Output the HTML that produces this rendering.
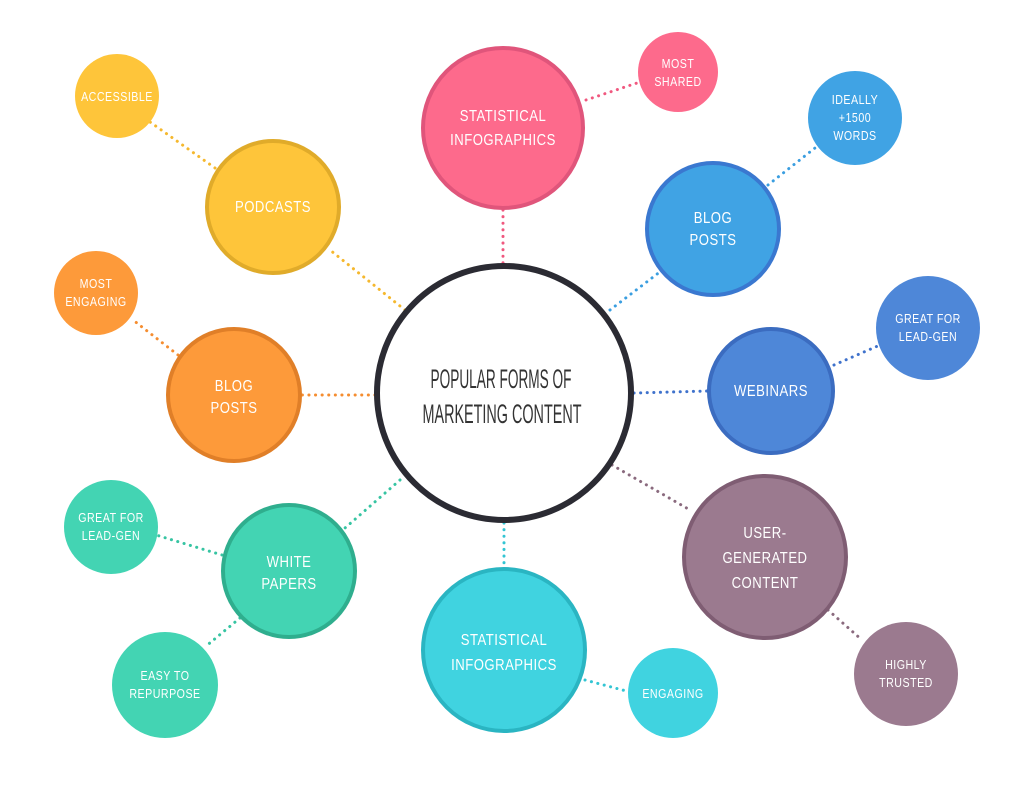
<!DOCTYPE html>
<html><head><meta charset="utf-8"><style>
html,body{margin:0;padding:0;background:#fff;}
svg{display:block}
text{font-family:"Liberation Sans Narrow","Liberation Sans",sans-serif;fill:#fff;text-anchor:middle;letter-spacing:0.6px;transform-box:fill-box;transform-origin:center;transform:scaleX(0.82)}
text.c{transform:none;fill:#333;font-size:27px;letter-spacing:0}
.b{font-size:16px}
.s{font-size:13px}
line{stroke-width:3;stroke-dasharray:0.1 6.5;stroke-linecap:round}
</style></head><body>
<svg width="1024" height="791" viewBox="0 0 1024 791">
<g>
<line x1="503" y1="210" x2="503" y2="263" stroke="#f0587f"/>
<line x1="586" y1="100" x2="640" y2="82" stroke="#f0587f"/>
<line x1="610" y1="310" x2="665" y2="268" stroke="#3a9ee0"/>
<line x1="768" y1="185" x2="815" y2="148" stroke="#3a9ee0"/>
<line x1="634" y1="393" x2="708" y2="391" stroke="#3f72cc"/>
<line x1="834" y1="365" x2="880" y2="345" stroke="#3f72cc"/>
<line x1="612" y1="465" x2="690" y2="510" stroke="#8a6a7e"/>
<line x1="828" y1="610" x2="862" y2="640" stroke="#8a6a7e"/>
<line x1="504" y1="523" x2="504" y2="567" stroke="#33c5d3"/>
<line x1="585" y1="680" x2="630" y2="692" stroke="#33c5d3"/>
<line x1="400" y1="480" x2="345" y2="528" stroke="#36c4a2"/>
<line x1="222" y1="555" x2="156" y2="535" stroke="#36c4a2"/>
<line x1="240" y1="618" x2="205" y2="647" stroke="#36c4a2"/>
<line x1="375" y1="395" x2="302" y2="395" stroke="#f58d30"/>
<line x1="178" y1="355" x2="133" y2="320" stroke="#f58d30"/>
<line x1="405" y1="310" x2="330" y2="250" stroke="#f5b82e"/>
<line x1="215" y1="168" x2="150" y2="122" stroke="#f5b82e"/>
</g>
<circle cx="504" cy="393" r="127" fill="#fff" stroke="#2b2b33" stroke-width="6"/>
<text class="c" x="501" y="388" textLength="141" lengthAdjust="spacingAndGlyphs">POPULAR FORMS OF</text>
<text class="c" x="502" y="423" textLength="159" lengthAdjust="spacingAndGlyphs">MARKETING CONTENT</text>

<circle cx="503" cy="128" r="80" fill="#fd6a8c" stroke="#e0557b" stroke-width="4"/>
<text class="b" x="503" y="121">STATISTICAL</text><text class="b" x="503" y="145">INFOGRAPHICS</text>
<circle cx="678" cy="72" r="40" fill="#fd6a8c"/>
<text class="s" x="678" y="68">MOST</text><text class="s" x="678" y="86">SHARED</text>

<circle cx="713" cy="229" r="66" fill="#40a3e4" stroke="#3a78d0" stroke-width="4"/>
<text class="b" x="713" y="223">BLOG</text><text class="b" x="713" y="245">POSTS</text>
<circle cx="855" cy="118" r="47" fill="#40a3e4"/>
<text class="s" x="855" y="104">IDEALLY</text><text class="s" x="855" y="122">+1500</text><text class="s" x="855" y="140">WORDS</text>

<circle cx="771" cy="391" r="62" fill="#4e87d8" stroke="#3b6cc0" stroke-width="4"/>
<text class="b" x="771" y="396">WEBINARS</text>
<circle cx="928" cy="328" r="52" fill="#4e87d8"/>
<text class="s" x="928" y="323">GREAT FOR</text><text class="s" x="928" y="341">LEAD-GEN</text>

<circle cx="765" cy="557" r="81" fill="#9b7a8f" stroke="#7f5d73" stroke-width="4"/>
<text class="b" x="765" y="538">USER-</text><text class="b" x="765" y="563">GENERATED</text><text class="b" x="765" y="588">CONTENT</text>
<circle cx="906" cy="674" r="52" fill="#9b7a8f"/>
<text class="s" x="906" y="669">HIGHLY</text><text class="s" x="906" y="687">TRUSTED</text>

<circle cx="504" cy="650" r="81" fill="#40d3e0" stroke="#2ab5c2" stroke-width="4"/>
<text class="b" x="504" y="645">STATISTICAL</text><text class="b" x="504" y="670">INFOGRAPHICS</text>
<circle cx="673" cy="693" r="45" fill="#40d3e0"/>
<text class="s" x="673" y="698">ENGAGING</text>

<circle cx="289" cy="571" r="66" fill="#43d4b3" stroke="#2fae8e" stroke-width="4"/>
<text class="b" x="289" y="567">WHITE</text><text class="b" x="289" y="589">PAPERS</text>
<circle cx="111" cy="527" r="47" fill="#43d4b3"/>
<text class="s" x="111" y="522">GREAT FOR</text><text class="s" x="111" y="540">LEAD-GEN</text>
<circle cx="165" cy="685" r="53" fill="#43d4b3"/>
<text class="s" x="165" y="680">EASY TO</text><text class="s" x="165" y="698">REPURPOSE</text>

<circle cx="234" cy="395" r="66" fill="#fd9a3a" stroke="#e07f28" stroke-width="4"/>
<text class="b" x="234" y="391">BLOG</text><text class="b" x="234" y="413">POSTS</text>
<circle cx="96" cy="293" r="42" fill="#fd9a3a"/>
<text class="s" x="96" y="288">MOST</text><text class="s" x="96" y="306">ENGAGING</text>

<circle cx="273" cy="207" r="66" fill="#fec53a" stroke="#e0ab2a" stroke-width="4"/>
<text class="b" x="273" y="212">PODCASTS</text>
<circle cx="117" cy="96" r="42" fill="#fec53a"/>
<text class="s" x="117" y="101">ACCESSIBLE</text>
</svg>
</body></html>
